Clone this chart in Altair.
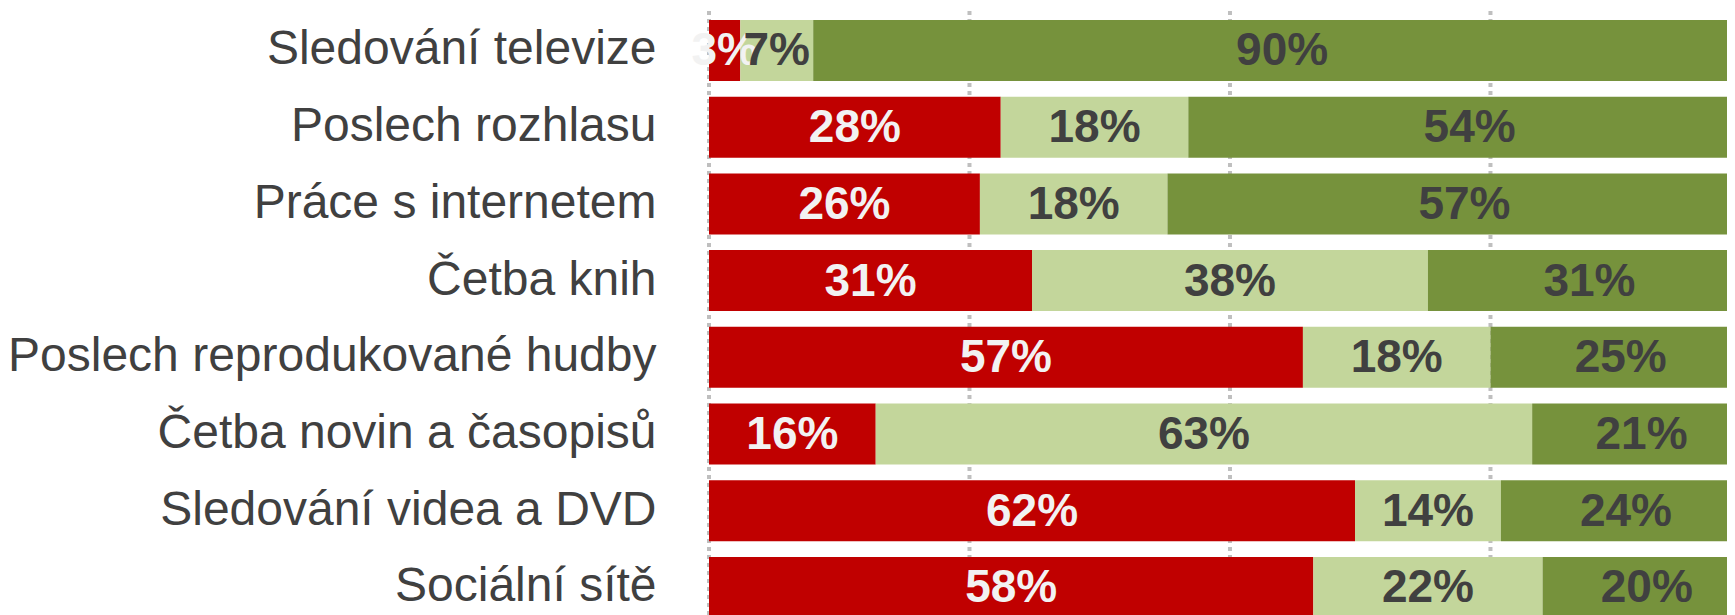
import altair as alt
import pandas as pd

categories = [
    "Sledování televize",
    "Poslech rozhlasu",
    "Práce s internetem",
    "Četba knih",
    "Poslech reprodukované hudby",
    "Četba novin a časopisů",
    "Sledování videa a  DVD",
    "Sociální sítě",
]
red_vals = [3, 28, 26, 31, 57, 16, 62, 58]
light_vals = [7, 18, 18, 38, 18, 63, 14, 22]
dark_vals = [90, 54, 57, 31, 25, 21, 24, 20]
series_names = ["red", "light", "dark"]
grid_vals = [0, 25, 50, 75]

fill_colors = {"red": "#C00000", "light": "#C3D69B", "dark": "#76923C"}
text_colors = {"red": "#F2F2F2", "light": "#404040", "dark": "#404040"}

rows = []
for i, cat in enumerate(categories):
    start = 0
    for s, vals in zip(series_names, [red_vals, light_vals, dark_vals]):
        v = vals[i]
        rows.append({
            "cat": cat, "series": s, "start": start, "end": start + v,
            "mid": start + v / 2, "label": f"{v}%",
            "fill": fill_colors[s], "tcolor": text_colors[s],
        })
        start += v
df = pd.DataFrame(rows)
grid_df = pd.DataFrame({"g": grid_vals})

PLOT_W = 1018
PLOT_H = 604

xscale = alt.Scale(domain=[0, 97.70], nice=False, zero=False)
yscale = alt.Scale(domain=categories, range=[9, 606.9], paddingInner=0.205, paddingOuter=0)
yaxis = alt.Axis(
    title=None, ticks=False, domain=False, grid=False, labelPadding=53,
    labelFont="Liberation Sans", labelFontSize=48, labelColor="#404040",
    labelLimit=900, labelBaseline="middle",
)
y_enc = alt.Y("cat:N", sort=categories, scale=yscale, axis=yaxis, title=None)

grid = alt.Chart(grid_df).mark_rule(
    color="#BFBFBF", strokeWidth=4, strokeDash=[4, 4]
).encode(
    x=alt.X("g:Q", scale=xscale, axis=None),
    y=alt.value(0),
    y2=alt.value(PLOT_H),
)

bars = alt.Chart(df).mark_bar(clip=True).encode(
    y=y_enc,
    x=alt.X("start:Q", scale=xscale, axis=None),
    x2="end:Q",
    color=alt.Color("fill:N", scale=None),
)

texts = alt.Chart(df).mark_text(
    font="Liberation Sans", fontWeight="bold", fontSize=46,
    baseline="middle", align="center", dy=1,
).encode(
    y=y_enc,
    x=alt.X("mid:Q", scale=xscale, axis=None),
    text="label:N",
    color=alt.Color("tcolor:N", scale=None),
)

chart = alt.layer(grid, bars, texts).properties(
    width=PLOT_W, height=PLOT_H,
    autosize=alt.AutoSizeParams(type="none"),
    padding={"left": 701, "top": 3, "right": 0, "bottom": 0},
    background="white",
).configure_view(strokeWidth=0)

chart.save("out.html", embed_options={"renderer": "svg", "actions": False})
